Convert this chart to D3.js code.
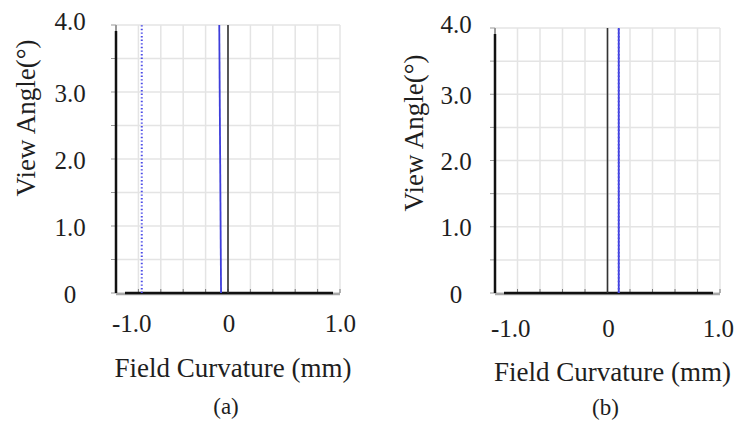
<!DOCTYPE html>
<html>
<head>
<meta charset="utf-8">
<script src="https://cdn.jsdelivr.net/npm/d3@7"></script>
<style>
  html, body { margin: 0; padding: 0; background: #fff; }
  svg { display: block; }
  text { font-family: "Liberation Serif", "Times New Roman", serif; fill: #1e1e1e; }
</style>
</head>
<body>
<svg id="chart" width="735" height="422"></svg>
<script>
// view angle endpoints (deg) of each field-curvature trace
const angles = [0, 4.0];

// panel (a): tangential (solid) and sagittal (dotted) curves, mm
const tangentialA = [-0.062, -0.078];
const sagittalA = [-0.77, -0.77];

// panel (b)
const tangentialB = [0.10, 0.10];
const sagittalB = [0.10, 0.10];

const xTickLabels = [-1.0, 0, 1.0];
const yTickLabels = [0, 1.0, 2.0, 3.0, 4.0];
const xGrid = d3.range(-1, 1.0001, 0.2);
const yGrid = d3.range(0, 4.0001, 0.5);

const svg = d3.select("#chart");

// plain hyphen, "0" without decimals like the original
function fmt(v) {
  return v === 0 ? "0" : v.toFixed(1);
}

function drawPanel(opts) {
  const { left, right, top, bottom, tangential, sagittal, tag } = opts;

  const x = d3.scaleLinear().domain([-1, 1]).range([left, right]);
  const y = d3.scaleLinear().domain([0, 4]).range([bottom, top]);
  const g = svg.append("g");

  // light grid
  g.append("g")
    .selectAll("line")
    .data(xGrid)
    .join("line")
    .attr("x1", (d) => x(d))
    .attr("x2", (d) => x(d))
    .attr("y1", top)
    .attr("y2", bottom)
    .attr("stroke", "#e4e4e4")
    .attr("stroke-width", 1.5);

  g.append("g")
    .selectAll("line")
    .data(yGrid)
    .join("line")
    .attr("x1", left)
    .attr("x2", right)
    .attr("y1", (d) => y(d))
    .attr("y2", (d) => y(d))
    .attr("stroke", "#e4e4e4")
    .attr("stroke-width", 1.5);

  // grey frame + small ticks
  g.append("line")
    .attr("x1", left).attr("x2", left)
    .attr("y1", top).attr("y2", bottom)
    .attr("stroke", "#9a9a9a").attr("stroke-width", 2);
  g.append("line")
    .attr("x1", left).attr("x2", right)
    .attr("y1", bottom + 1).attr("y2", bottom + 1)
    .attr("stroke", "#a8a8a8").attr("stroke-width", 2.5);

  g.append("g")
    .selectAll("line")
    .data(yGrid)
    .join("line")
    .attr("x1", left - 5)
    .attr("x2", left)
    .attr("y1", (d) => y(d))
    .attr("y2", (d) => y(d))
    .attr("stroke", "#999")
    .attr("stroke-width", 1);

  g.append("g")
    .selectAll("line")
    .data(xGrid)
    .join("line")
    .attr("x1", (d) => x(d))
    .attr("x2", (d) => x(d))
    .attr("y1", bottom - 4)
    .attr("y2", bottom)
    .attr("stroke", "#777")
    .attr("stroke-width", 1);

  // heavy black axes
  g.append("line")
    .attr("x1", left).attr("x2", left)
    .attr("y1", top + 6).attr("y2", bottom)
    .attr("stroke", "#111").attr("stroke-width", 2.5);
  g.append("line")
    .attr("x1", left + 9).attr("x2", right - 7)
    .attr("y1", bottom).attr("y2", bottom)
    .attr("stroke", "#111").attr("stroke-width", 2.5);

  // zero reference
  g.append("line")
    .attr("x1", x(0)).attr("x2", x(0))
    .attr("y1", y(0)).attr("y2", y(4))
    .attr("stroke", "#333").attr("stroke-width", 1.6);

  const line = d3.line().x((d) => x(d[0])).y((d) => y(d[1]));

  g.append("path")
    .datum(angles.map((a, i) => [tangential[i], a]))
    .attr("d", line)
    .attr("fill", "none")
    .attr("stroke", "#3d3ddb")
    .attr("stroke-width", 1.8);

  g.append("path")
    .datum(angles.map((a, i) => [sagittal[i], a]))
    .attr("d", line)
    .attr("fill", "none")
    .attr("stroke", "#4b4be6")
    .attr("stroke-width", 2)
    .attr("stroke-dasharray", "1.4,2.2");

  // y tick labels
  g.append("g")
    .selectAll("text")
    .data(yTickLabels)
    .join("text")
    .attr("x", opts.yLabelX)
    .attr("y", (d) => y(d) + (d === 4 ? -4 : 1))
    .attr("text-anchor", "middle")
    .attr("dominant-baseline", "central")
    .attr("font-size", 25)
    .text(fmt);

  // x tick labels
  g.append("g")
    .selectAll("text")
    .data(xTickLabels)
    .join("text")
    .attr("x", (d) => (d === -1 ? x(d) - 4 : d === 1 ? Math.min(x(d) + 16, 734) : x(d) + 1))
    .attr("y", opts.xLabelY)
    .attr("text-anchor", (d) => (d === -1 ? "start" : d === 1 ? "end" : "middle"))
    .attr("dominant-baseline", "central")
    .attr("font-size", 25)
    .text(fmt);

  // axis titles
  g.append("text")
    .attr("transform", `translate(${opts.yTitleX},${opts.yTitleY}) rotate(-90)`)
    .attr("text-anchor", "middle")
    .attr("dominant-baseline", "central")
    .attr("font-size", 27)
    .text("View Angle(°)");

  g.append("text")
    .attr("x", (left + right) / 2 + 5)
    .attr("y", opts.xTitleY)
    .attr("text-anchor", "middle")
    .attr("dominant-baseline", "central")
    .attr("font-size", 27)
    .text("Field Curvature (mm)");

  g.append("text")
    .attr("x", (left + right) / 2 - 2)
    .attr("y", opts.tagY)
    .attr("text-anchor", "middle")
    .attr("dominant-baseline", "central")
    .attr("font-size", 23)
    .text(tag);
}

drawPanel({
  left: 116, right: 340, top: 25, bottom: 293,
  tangential: tangentialA, sagittal: sagittalA, tag: "(a)",
  yLabelX: 70, xLabelY: 323, yTitleX: 26, yTitleY: 118, xTitleY: 368, tagY: 406,
});

drawPanel({
  left: 495, right: 720, top: 28, bottom: 293,
  tangential: tangentialB, sagittal: sagittalB, tag: "(b)",
  yLabelX: 456, xLabelY: 328, yTitleX: 414, yTitleY: 133, xTitleY: 372, tagY: 407,
});
</script>
</body>
</html>
